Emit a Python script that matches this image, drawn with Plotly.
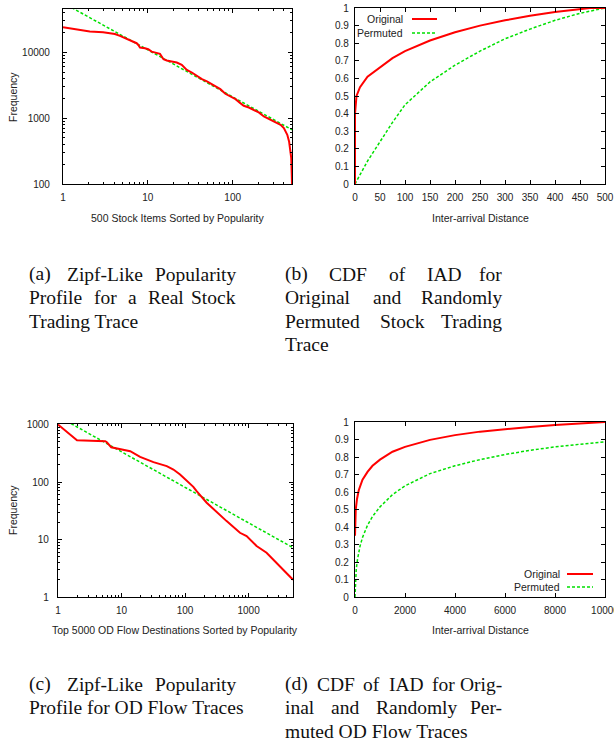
import plotly.graph_objects as go

# ---------------- data ----------------
# (a) stock popularity (rank vs frequency)
a_rank = [1, 1.44, 2.07, 2.97, 4.09, 4.69, 5.62, 6.74, 7.38, 7.72, 8.08, 9.25, 10.1, 11.1, 12.7,
          13.9, 15.3, 16.7, 19.1, 21.9, 25.1, 28.8, 33.0, 37.8, 43.4, 49.7, 59.6, 71.5, 81.9,
          93.8, 108, 123, 135, 155, 177, 203, 233, 267, 306, 367, 401, 440, 462, 475, 490, 496, 500]
a_freq = [23900, 22300, 20600, 20100, 18900, 17700, 15900, 14500, 13700, 12900, 11800, 11500,
          11100, 10200, 9660, 9440, 7830, 7480, 7230, 6970, 6430, 5400, 4920, 4380, 3900, 3600,
          3160, 2750, 2340, 2130, 1940, 1690, 1540, 1450, 1340, 1220, 1060, 966, 880, 792, 705,
          558, 443, 331, 248, 147, 100]
a_fit_rank = [1, 500]
a_fit_freq = [56200, 665]

# (b) CDF of inter-arrival distance, stock trace
b_orig_x = [0, 0, 3, 10, 25, 50, 75, 100, 150, 200, 250, 300, 350, 400, 450, 470, 500]
b_orig_y = [0, 0.40, 0.50, 0.55, 0.61, 0.66, 0.715, 0.755, 0.815, 0.862, 0.90, 0.93, 0.956,
            0.977, 0.994, 1.0, 1.0]
b_perm_x = [0, 10, 25, 50, 75, 100, 150, 200, 250, 300, 350, 400, 450, 500]
b_perm_y = [0, 0.05, 0.13, 0.24, 0.35, 0.45, 0.58, 0.675, 0.755, 0.825, 0.88, 0.93, 0.97, 1.0]

# (c) OD flow popularity
c_rank = [1, 1.99, 5.54, 5.88, 6.88, 10.5, 13.7, 19.6, 31.8, 51.5, 65.6, 83.4, 135, 152, 219,
          451, 731, 930, 1336, 1918, 3105, 5000]
c_freq = [1000, 535, 513, 493, 403, 368, 344, 274, 222, 189, 165, 135, 82.6, 69.5, 43.6, 20.9,
          13.1, 11.5, 7.7, 5.9, 3.46, 2.0]
c_fit_rank = [1, 5000]
c_fit_freq = [1395, 7.2]

# (d) CDF of inter-arrival distance, OD flow traces
d_orig_x = [0, 10, 30, 80, 150, 300, 500, 700, 1000, 1500, 2000, 3000, 4000, 5000, 6000, 7000,
            8000, 9000, 10000]
d_orig_y = [0.35, 0.45, 0.50, 0.56, 0.61, 0.67, 0.715, 0.75, 0.785, 0.83, 0.858, 0.898, 0.925,
            0.945, 0.96, 0.972, 0.983, 0.992, 1.0]
d_perm_x = [0, 20, 50, 100, 200, 300, 500, 700, 1000, 1500, 2000, 3000, 4000, 5000, 6000, 7000,
            8000, 9000, 10000]
d_perm_y = [0, 0.10, 0.16, 0.215, 0.29, 0.34, 0.41, 0.46, 0.515, 0.585, 0.635, 0.705, 0.75,
            0.785, 0.814, 0.838, 0.858, 0.873, 0.886]

series_names = ["Original", "Permuted"]
a_xticks = [1, 10, 100]
a_yticks = [100, 1000, 10000]
c_xticks = [1, 10, 100, 1000]
c_yticks = [1, 10, 100, 1000]

caption_a = ["(a) Zipf-Like Popularity", "Profile for a Real Stock", "Trading Trace"]
caption_b = ["(b) CDF of IAD for", "Original and Randomly", "Permuted Stock Trading", "Trace"]
caption_c = ["(c) Zipf-Like Popularity", "Profile for OD Flow Traces"]
caption_d = ["(d) CDF of IAD for Orig-", "inal and Randomly Per-", "muted OD Flow Traces"]

# ---------------- layout helpers ----------------
W, H = 614, 747
def px(x):
    return x / W
def py(y):
    return 1 - y / H

RED = "#ff0000"
GREEN = "#00e000"
TICKFONT = dict(family="Liberation Sans, Arial, sans-serif", size=10, color="#222")
CAP_SIZE = 19.5
CAPFONT = dict(family="Liberation Serif, Times New Roman, serif", size=CAP_SIZE, color="#111")

fig = go.Figure()

def red(x, y, xa, ya):
    fig.add_trace(go.Scatter(x=x, y=y, mode="lines", xaxis=xa, yaxis=ya, showlegend=False,
                             line=dict(color=RED, width=2)))
def green(x, y, xa, ya):
    fig.add_trace(go.Scatter(x=x, y=y, mode="lines", xaxis=xa, yaxis=ya, showlegend=False,
                             line=dict(color=GREEN, width=1.5, dash="3px,2px")))

green(a_fit_rank, a_fit_freq, "x", "y")
red(a_rank, a_freq, "x", "y")
green(b_perm_x, b_perm_y, "x2", "y2")
red(b_orig_x, b_orig_y, "x2", "y2")
green(c_fit_rank, c_fit_freq, "x3", "y3")
red(c_rank, c_freq, "x3", "y3")
green(d_perm_x, d_perm_y, "x4", "y4")
red(d_orig_x, d_orig_y, "x4", "y4")

base = dict(showline=True, linecolor="black", linewidth=1.2, mirror="allticks", ticks="inside",
            ticklen=4, tickcolor="black", tickwidth=1, showgrid=False, zeroline=False,
            tickfont=TICKFONT, automargin=False, ticklabeloverflow="allow")

def logax(domain, rng, ticks, standoff):
    d = dict(base)
    d.update(type="log", domain=domain, range=rng, tickmode="array", tickvals=ticks,
             ticktext=[str(t) for t in ticks], ticklabelstandoff=standoff,
             minor=dict(ticks="inside", ticklen=2, tickcolor="black", dtick="D1", showgrid=False))
    return d

def linax(domain, rng, dtick, standoff, fmt=None):
    d = dict(base)
    d.update(domain=domain, range=rng, dtick=dtick, tick0=0, ticklabelstandoff=standoff)
    if fmt:
        d["tickformat"] = fmt
    return d

fig.update_layout(
    width=W, height=H, margin=dict(l=0, r=0, t=0, b=0, autoexpand=False),
    paper_bgcolor="white", plot_bgcolor="white", showlegend=False,
    xaxis=dict(logax([px(63), px(292)], [0, 2.699], a_xticks, 4), anchor="y"),
    yaxis=dict(logax([py(184), py(9)], [2, 4.656], a_yticks, 10), anchor="x"),
    xaxis2=dict(linax([px(355), px(605)], [0, 500], 50, 4), anchor="y2"),
    yaxis2=dict(linax([py(184), py(8)], [0, 1], 0.1, 3), anchor="x2"),
    xaxis3=dict(logax([px(58), px(293)], [0, 3.699], c_xticks, 4), anchor="y3"),
    yaxis3=dict(logax([py(597), py(424)], [0, 3.01], c_yticks, 6), anchor="x3"),
    xaxis4=dict(linax([px(355), px(605)], [0, 10000], 2000, 4, "d"), anchor="y4"),
    yaxis4=dict(linax([py(597), py(422)], [0, 1], 0.1, 3), anchor="x4"),
)

ann = []
def text(x, y, s, size=11, xanchor="center", angle=0, font=None):
    f = dict(TICKFONT) if font is None else dict(font)
    f["size"] = size
    ann.append(dict(x=px(x), y=py(y), xref="paper", yref="paper", text=s, showarrow=False,
                    xanchor=xanchor, yanchor="middle", font=f, textangle=angle))

# axis titles
text(177.5, 218, "500 Stock Items Sorted by Popularity", 10.5)
text(480, 218, "Inter-arrival Distance", 10.5)
text(175, 630, "Top 5000 OD Flow Destinations Sorted by Popularity", 10.5)
text(480, 630, "Inter-arrival Distance", 10.5)
text(13, 97, "Frequency", 10.5, angle=-90)
text(13, 510, "Frequency", 10.5, angle=-90)

# legends
text(405, 19, series_names[0], 10.5, "right")
text(405, 33, series_names[1], 10.5, "right")
text(562, 574, series_names[0], 10.5, "right")
text(562, 587, series_names[1], 10.5, "right")
shapes = [
    dict(type="line", xref="paper", yref="paper", x0=px(412), x1=px(437), y0=py(19), y1=py(19),
         line=dict(color=RED, width=2)),
    dict(type="line", xref="paper", yref="paper", x0=px(412), x1=px(437), y0=py(33), y1=py(33),
         line=dict(color=GREEN, width=1.5, dash="3px,2px")),
    dict(type="line", xref="paper", yref="paper", x0=px(567), x1=px(593), y0=py(574), y1=py(574),
         line=dict(color=RED, width=2)),
    dict(type="line", xref="paper", yref="paper", x0=px(567), x1=px(593), y0=py(587), y1=py(587),
         line=dict(color=GREEN, width=1.5, dash="3px,2px")),
]

# Times-compatible advance widths (1/1000 em) to lay out justified caption lines
ADV = {" ": 250, "(": 333, ")": 333, "-": 333, "a": 444, "b": 500, "c": 444, "d": 500, "e": 444,
       "f": 333, "g": 500, "h": 500, "i": 278, "k": 500, "l": 278, "m": 778, "n": 500, "o": 500,
       "p": 500, "r": 333, "s": 389, "t": 278, "u": 500, "w": 722, "y": 500, "z": 444,
       "A": 722, "C": 667, "D": 722, "F": 556, "I": 333, "L": 611, "O": 722, "P": 556,
       "R": 667, "S": 556, "T": 611, "Z": 611}
def wwidth(w):
    return sum(ADV.get(ch, 500) for ch in w) * CAP_SIZE / 1000.0

def caption(lines, left, right, top, step):
    for i, line in enumerate(lines):
        yy = top + i * step
        last = (i == len(lines) - 1)
        words = line.split(" ")
        if last or len(words) == 1:
            text(left, yy, line, CAP_SIZE, "left", font=CAPFONT)
            continue
        widths = [wwidth(w) for w in words]
        gap = (right - left - sum(widths)) / (len(words) - 1)
        x = left
        for k, (w, ww) in enumerate(zip(words, widths)):
            if k == len(words) - 1:
                text(right, yy, w, CAP_SIZE, "right", font=CAPFONT)
            else:
                text(x, yy, w, CAP_SIZE, "left", font=CAPFONT)
            x += ww + gap

caption(caption_a, 27, 238, 274, 23.5)
caption(caption_b, 283, 504, 274, 23.5)
caption(caption_c, 27, 238, 684, 23.5)
caption(caption_d, 283, 504, 684, 23.5)

fig.update_layout(annotations=ann, shapes=shapes)
fig.write_html("out.html", config={"displayModeBar": False},
               post_script="document.body.style.margin='0px';")
